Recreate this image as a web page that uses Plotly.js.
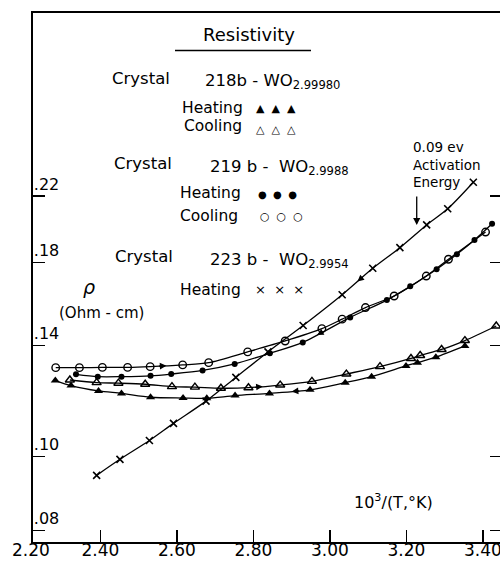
<!DOCTYPE html>
<html><head><meta charset="utf-8">
<script src="https://cdn.plot.ly/plotly-3.0.1.min.js"></script>
<style>html,body{margin:0;padding:0;overflow:hidden;background:#fff;width:500px;height:562px}</style>
</head><body><div id="chart" style="width:510px;height:562px"></div>
<script>
// ---- data: x = 10^3/T (1/K), y = resistivity (Ohm-cm) ----
const x219bCool = [2.283, 2.345, 2.405, 2.471, 2.530, 2.615, 2.683, 2.785, 2.883, 2.979, 3.032, 3.093, 3.168, 3.252, 3.310, 3.407];
const y219bCool = [0.1309, 0.1309, 0.1310, 0.1310, 0.1313, 0.1320, 0.1329, 0.1373, 0.1419, 0.1473, 0.1516, 0.1570, 0.1626, 0.1727, 0.1817, 0.1973];

const x219bHeat = [2.336, 2.393, 2.455, 2.531, 2.585, 2.667, 2.751, 2.843, 2.929, 3.053, 3.149, 3.210, 3.279, 3.332, 3.378, 3.424];
const y219bHeat = [0.1283, 0.1274, 0.1274, 0.1277, 0.1284, 0.1298, 0.1324, 0.1367, 0.1413, 0.1524, 0.1606, 0.1674, 0.1763, 0.1845, 0.1926, 0.2023];

const x218bCool = [2.320, 2.390, 2.447, 2.517, 2.587, 2.647, 2.715, 2.787, 2.870, 2.953, 3.043, 3.131, 3.212, 3.236, 3.292, 3.353, 3.435];
const y218bCool = [0.1261, 0.1251, 0.1249, 0.1245, 0.1236, 0.1234, 0.1230, 0.1232, 0.1242, 0.1256, 0.1284, 0.1313, 0.1346, 0.1358, 0.1383, 0.1421, 0.1485];

const x218bHeat = [2.282, 2.323, 2.395, 2.455, 2.531, 2.616, 2.678, 2.752, 2.842, 2.948, 3.040, 3.109, 3.199, 3.229, 3.277, 3.353];
const y218bHeat = [0.1259, 0.1240, 0.1220, 0.1211, 0.1197, 0.1194, 0.1193, 0.1203, 0.1211, 0.1224, 0.1251, 0.1274, 0.1316, 0.1329, 0.1351, 0.1398];

const x223bHeat = [2.390, 2.451, 2.528, 2.591, 2.676, 2.754, 2.838, 2.930, 3.032, 3.112, 3.183, 3.253, 3.308, 3.375];
const y223bHeat = [0.0945, 0.0992, 0.1050, 0.1106, 0.1183, 0.1271, 0.1373, 0.1487, 0.1632, 0.1768, 0.1882, 0.2016, 0.2117, 0.2294];

const xTickVals = [2.4, 2.6, 2.8, 3.0, 3.2, 3.4];
const xTickText = ['2.40', '2.60', '2.80', '3.00', '3.20', '3.40'];
const yTickVals = [0.08, 0.10, 0.14, 0.18, 0.22];
const yTickText = ['.08', '.10', '.14', '.18', '.22'];

// ---- layout geometry ----
const W = 510, H = 562;
const M = {l: 33, r: 8, t: 13, b: 20, pad: 0};
const xRange = [2.2236, 3.45];
const yRange = [-1.1121, -0.4171];
const pw = W - M.l - M.r, ph = H - M.t - M.b;
const PX = p => (p - M.l) / pw;
const PY = p => (H - M.b - p) / ph;
const FONT = 'DejaVu Sans, sans-serif';
const K = '#000';

function txt(text, x, y, size, xa, ya, extra) {
  return Object.assign({text: text, xref: 'paper', yref: 'paper', x: PX(x), y: PY(y),
    xanchor: xa || 'left', yanchor: ya || 'middle', showarrow: false,
    font: {family: FONT, size: size, color: K}}, extra || {});
}

// direction arrows along curves, placed between two data points
const xs = pw / (xRange[1] - xRange[0]);
const ys = ph / (yRange[1] - yRange[0]);
function dirArrow(xa, ya, i, t, forward) {
  const x1 = xa[i], x2 = xa[i + 1];
  const l1 = Math.log10(ya[i]), l2 = Math.log10(ya[i + 1]);
  const x = x1 + (x2 - x1) * t, l = l1 + (l2 - l1) * t;
  let dx = (x2 - x1) * xs, dy = -(l2 - l1) * ys;
  const n = Math.hypot(dx, dy); dx /= n; dy /= n;
  const L = 9, s = forward ? -1 : 1;
  return {xref: 'x', yref: 'y', x: x, y: l, ax: s * dx * L, ay: s * dy * L, text: '',
    showarrow: true, arrowhead: 2, arrowsize: 1.1, arrowwidth: 1.2, arrowcolor: K};
}

const line = {color: K, width: 1.3, shape: 'spline', smoothing: 0.8};
const traces = [
  {x: x219bCool, y: y219bCool, mode: 'lines+markers', line: line,
   marker: {symbol: 'circle-open', size: 7.5, color: K, line: {width: 1.4, color: K}}},
  {x: x219bHeat, y: y219bHeat, mode: 'lines+markers', line: line,
   marker: {symbol: 'circle', size: 6, color: K}},
  {x: x218bCool, y: y218bCool, mode: 'lines+markers', line: line,
   marker: {symbol: 'triangle-up-open', size: 8, color: K, line: {width: 1.4, color: K}}},
  {x: x218bHeat, y: y218bHeat, mode: 'lines+markers', line: line,
   marker: {symbol: 'triangle-up', size: 8, color: K}},
  {x: x223bHeat, y: y223bHeat, mode: 'lines+markers', line: line,
   marker: {symbol: 'x-thin', size: 7, color: K, line: {width: 1.6, color: K}}}
];

const annotations = [
  txt('Resistivity', 249, 34, 18, 'center'),
  txt('Crystal', 110, 78.5, 16.5),
  txt('218b - WO<sub>2.99980</sub>', 203, 81, 16.5),
  txt('Heating', 180, 107.5, 15.5),
  txt('\u25B2&nbsp;&nbsp;\u25B2&nbsp;&nbsp;\u25B2', 254, 108, 11),
  txt('Cooling', 182, 126, 15.5),
  txt('\u25B3&nbsp;&nbsp;\u25B3&nbsp;&nbsp;\u25B3', 254, 129, 11),
  txt('Crystal', 112, 163.5, 16.5),
  txt('219 b -&nbsp; WO<sub>2.9988</sub>', 208, 167, 16.5),
  txt('Heating', 178, 193, 15.5),
  txt('\u25CF&nbsp;&nbsp;\u25CF&nbsp;&nbsp;\u25CF', 256, 195, 10),
  txt('Cooling', 178, 216, 15.5),
  txt('\u25CB&nbsp;&nbsp;\u25CB&nbsp;&nbsp;\u25CB', 258, 216, 11),
  txt('Crystal', 113, 256.5, 16.5),
  txt('223 b -&nbsp; WO<sub>2.9954</sub>', 208, 260, 16.5),
  txt('Heating', 178, 290, 15.5),
  txt('\u00D7&nbsp;&nbsp;\u00D7&nbsp;&nbsp;\u00D7', 253, 289, 13),
  txt('<i>\u03C1</i>', 89, 287, 19, 'center'),
  txt('(Ohm - cm)', 57, 312.5, 15),
  txt('10<sup>3</sup>/(T,\u00B0K)', 352, 502, 16),
  txt('0.09 ev<br>Activation<br>Energy', 411, 137, 13.5, 'left', 'top', {align: 'left'}),
  txt('2.20', 31, 538, 17, 'center', 'top'),
  {xref: 'x', yref: 'y', x: 3.227, y: Math.log10(0.2015), ax: 0, ay: -30, text: '',
   showarrow: true, arrowhead: 2, arrowsize: 1.1, arrowwidth: 1.3, arrowcolor: K},
  dirArrow(x219bCool, y219bCool, 4, 0.5, true),
  dirArrow(x219bHeat, y219bHeat, 8, 0.3, false),
  dirArrow(x218bCool, y218bCool, 7, 0.45, true),
  dirArrow(x218bHeat, y218bHeat, 8, 0.55, false),
  dirArrow(x223bHeat, y223bHeat, 8, 0.5, false)
];

const layout = {
  width: W, height: H, margin: M, showlegend: false,
  paper_bgcolor: '#fff', plot_bgcolor: '#fff',
  font: {family: FONT, color: K},
  xaxis: {range: xRange, tickvals: xTickVals, ticktext: xTickText, ticks: 'inside', ticklen: 12,
    tickwidth: 1.5, tickcolor: K, showline: true, linewidth: 2, linecolor: K, mirror: true,
    showgrid: false, zeroline: false, ticklabelstandoff: -8,
    tickfont: {family: FONT, size: 17, color: K}},
  yaxis: {type: 'log', range: yRange, tickvals: yTickVals, ticktext: yTickText, ticks: 'inside', ticklen: 12,
    tickwidth: 1.5, tickcolor: K, showline: true, linewidth: 2, linecolor: K, mirror: 'ticks',
    showgrid: false, zeroline: false, ticklabelposition: 'inside top',
    tickfont: {family: FONT, size: 16, color: K}},
  annotations: annotations,
  shapes: [{type: 'line', xref: 'paper', yref: 'paper', x0: PX(175), x1: PX(311), y0: PY(50.5), y1: PY(50.5),
    line: {color: K, width: 1.5}}]
};

Plotly.newPlot('chart', traces, layout, {displayModeBar: false, staticPlot: true});
</script></body></html>
